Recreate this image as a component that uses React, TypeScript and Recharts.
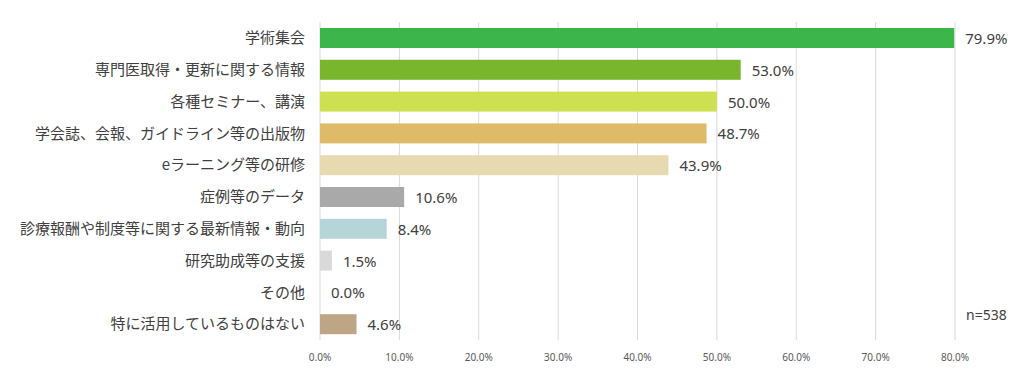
import React from 'react';
import { BarChart, Bar, XAxis, YAxis, CartesianGrid, Cell } from 'recharts';

const categories = [
  '学術集会',
  '専門医取得・更新に関する情報',
  '各種セミナー、講演',
  '学会誌、会報、ガイドライン等の出版物',
  'eラーニング等の研修',
  '症例等のデータ',
  '診療報酬や制度等に関する最新情報・動向',
  '研究助成等の支援',
  'その他',
  '特に活用しているものはない',
];
const values = [79.9, 53.0, 50.0, 48.7, 43.9, 10.6, 8.4, 1.5, 0.0, 4.6];
const colors = ['#3cb54a', '#7ab52e', '#cde052', '#dfba69', '#e8dab0', '#a9a9a9', '#b6d5d9', '#d9d9d9', '#cccccc', '#bda585'];
const xTicks = [0, 10, 20, 30, 40, 50, 60, 70, 80];
const sampleNote = 'n=538';

const data = categories.map((name, i) => ({ name, value: values[i] }));

const FONT = '"Noto Sans CJK JP", "Noto Sans", sans-serif';
const NUMFONT = '"Noto Sans", "Noto Sans CJK JP", sans-serif';

const BarWithLabel = (props: any) => {
  const { x, y, width, height, fill, value } = props;
  const v = Array.isArray(value) ? value[1] - value[0] : value;
  const w = Math.max(0, Number(width) || 0);
  return (
    <g>
      {w > 0 && <rect x={x} y={y} width={w} height={height} fill={fill} />}
      <text
        x={Number(x) + w + 11}
        y={Number(y) + Number(height) / 2}
        dominantBaseline="central"
        textAnchor="start"
        fontSize={15}
        fill="#404040"
        fontFamily={NUMFONT}
      >
        {`${Number(v).toFixed(1)}%`}
      </text>
    </g>
  );
};

export default function App() {
  return (
    <div style={{ position: 'absolute', left: 0, top: 0, width: 1024, height: 380, background: '#fff', fontFamily: FONT }}>
      <BarChart
        width={1024}
        height={380}
        data={data}
        layout="vertical"
        margin={{ top: 22, right: 69, bottom: 10, left: 0 }}
        barCategoryGap={6}
      >
        <CartesianGrid horizontal={false} stroke="#d9d9d9" />
        <XAxis
          type="number"
          domain={[0, 80]}
          ticks={xTicks}
          tickFormatter={(v: number) => `${v.toFixed(1)}%`}
          axisLine={false}
          tickLine={{ stroke: '#d9d9d9' }}
          tickSize={0}
          tickMargin={14}
          height={30}
          tick={{ fontSize: 10, fill: '#595959', fontFamily: NUMFONT }}
        />
        <YAxis
          type="category"
          dataKey="name"
          width={320}
          axisLine={false}
          tickLine={false}
          tickSize={0}
          tickMargin={15}
          interval={0}
          tick={{ fontSize: 15, fill: '#404040', fontFamily: FONT }}
        />
        <Bar dataKey="value" isAnimationActive={false} shape={BarWithLabel}>
          {data.map((d, i) => (
            <Cell key={d.name} fill={colors[i]} />
          ))}
        </Bar>
      </BarChart>
      <div style={{ position: 'absolute', left: 966, top: 305, fontSize: 14, color: '#404040', fontFamily: NUMFONT }}>{sampleNote}</div>
    </div>
  );
}
